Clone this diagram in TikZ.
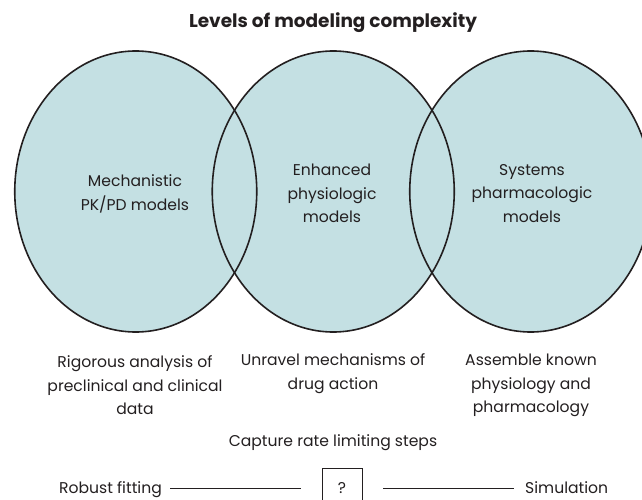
\documentclass[tikz,border=0pt]{standalone}
\usepackage{fontspec}
\setmainfont{Poppins}
\usepackage{tikz}
\usepackage{xcolor}
\definecolor{vennfill}{RGB}{196,224,227}
\definecolor{inkline}{RGB}{35,31,32}
\tikzset{
  lbl/.style={align=center, inner sep=0pt, text=inkline,
    font=\fontsize{15.6}{23.5}\selectfont},
  venn/.style={fill=vennfill, draw=none}
}
\begin{document}
\begin{tikzpicture}[x=1pt, y=-1pt]
    \useasboundingbox (0,0) rectangle (642,500);
    \clip (0,0) rectangle (642,500);

    % title
    \node[lbl, font=\fontsize{18.5}{22}\bfseries] (title) at (333,23) {Levels of modeling complexity};

    % circles: fill first, outlines after
    \fill[venn] (135.75,191.5) ellipse [x radius=121pt, y radius=140.5pt];
    \fill[venn] (333.25,191.5) ellipse [x radius=121pt, y radius=140.5pt];
    \fill[venn] (530.75,191.5) ellipse [x radius=121pt, y radius=140.5pt];
    \draw[inkline, line width=1.6pt] (135.75,191.5) ellipse [x radius=121pt, y radius=140.5pt];
    \draw[inkline, line width=1.6pt] (333.25,191.5) ellipse [x radius=121pt, y radius=140.5pt];
    \draw[inkline, line width=1.6pt] (530.75,191.5) ellipse [x radius=121pt, y radius=140.5pt];

    % model types
    \node[lbl] (mech) at (135,194) {Mechanistic\\PK/PD models};
    \node[lbl] (enh) at (332,193.5) {Enhanced\\physiologic\\models};
    \node[lbl] (sys) at (532,193.5) {Systems\\pharmacologic\\models};

    % what each level is for
    \node[lbl] (rigor) at (135,385.5) {Rigorous analysis of\\preclinical and clinical\\data};
    \node[lbl] (unravel) at (333,373.5) {Unravel mechanisms of\\drug action};
    \node[lbl] (assemble) at (531,385.5) {Assemble known\\physiology and\\pharmacology};

    \node[lbl] (capture) at (333,443) {Capture rate limiting steps};

    % fitting vs simulation
    \node[lbl, draw=inkline, line width=0.8pt, minimum width=40pt, minimum height=40pt] (qbox) at (342,488) {?};
    \node[lbl, anchor=base east] (fitting) at (162,493) {Robust fitting};
    \node[lbl, anchor=base west] (simul) at (525,493) {Simulation};
    \draw[inkline, line width=0.9pt] ([xshift=8pt]fitting.east |- qbox.west) -- ([xshift=-21pt]qbox.west);
    \draw[inkline, line width=0.9pt] ([xshift=21pt]qbox.east) -- ([xshift=-11pt]simul.west |- qbox.east);
\end{tikzpicture}
\end{document}
